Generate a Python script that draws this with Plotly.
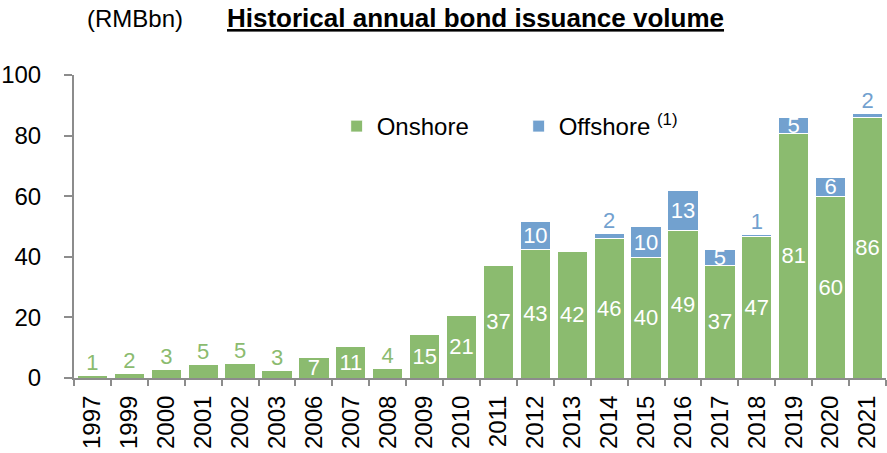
import plotly.graph_objects as go

years = ["1997", "1999", "2000", "2001", "2002", "2003", "2006", "2007", "2008", "2009",
         "2010", "2011", "2012", "2013", "2014", "2015", "2016", "2017", "2018", "2019",
         "2020", "2021"]
onshore = [0.8, 1.6, 2.7, 4.6, 4.7, 2.6, 6.8, 10.5, 3.3, 14.5,
           20.6, 37.0, 42.5, 41.9, 46.0, 39.8, 48.8, 37.0, 46.6, 80.7,
           60.0, 86.0]
offshore = [0, 0, 0, 0, 0, 0, 0, 0, 0, 0,
            0, 0, 9.3, 0, 1.7, 10.1, 13.2, 5.3, 0.9, 5.3,
            6.2, 1.2]
onshore_labels = ["1", "2", "3", "5", "5", "3", "7", "11", "4", "15",
                  "21", "37", "43", "42", "46", "40", "49", "37", "47", "81",
                  "60", "86"]
offshore_labels = ["", "", "", "", "", "", "", "", "", "",
                   "", "", "10", "", "2", "10", "13", "5", "1", "5",
                   "6", "2"]

GREEN = "#8bbb6f"
BLUE = "#72a1cf"
FONT = "Liberation Sans, Arial, sans-serif"
INSIDE_MIN = 6

on_in = [l if v >= INSIDE_MIN else "" for v, l in zip(onshore, onshore_labels)]
off_in = [l if v >= 4 else "" for v, l in zip(offshore, offshore_labels)]

fig = go.Figure()
fig.add_trace(go.Bar(
    x=years, y=onshore, name="Onshore", marker=dict(color=GREEN, line=dict(color="white", width=1)),
    text=on_in, textposition="inside", insidetextanchor="middle", textangle=0,
    textfont=dict(color="white", size=22, family=FONT), constraintext="none",
    hoverinfo="skip"))
fig.add_trace(go.Bar(
    x=years, y=offshore, name="Offshore <sup>(1)</sup>",
    marker=dict(color=BLUE, line=dict(color="white", width=1)),
    text=off_in, textposition="inside", insidetextanchor="middle", textangle=0,
    textfont=dict(color="white", size=22, family=FONT), constraintext="none",
    hoverinfo="skip"))

# outside labels for small onshore bars
ox, oy, ot = [], [], []
for x, v, l in zip(years, onshore, onshore_labels):
    if v < INSIDE_MIN:
        ox.append(x); oy.append(v); ot.append(l)
fig.add_trace(go.Scatter(x=ox, y=oy, text=ot, mode="text", textposition="top center",
                         textfont=dict(color=GREEN, size=22, family=FONT),
                         showlegend=False, hoverinfo="skip"))
# outside labels for small offshore bars
bx, by, bt = [], [], []
for x, v, o, l in zip(years, onshore, offshore, offshore_labels):
    if 0 < o < 4:
        bx.append(x); by.append(v + o); bt.append(l)
fig.add_trace(go.Scatter(x=bx, y=by, text=bt, mode="text", textposition="top center",
                         textfont=dict(color=BLUE, size=22, family=FONT),
                         showlegend=False, hoverinfo="skip"))

pw, ph = 887 - 73, 453 - 150
def px(xp):
    return (xp - 72) / pw
def py(yp):
    return (378 - yp) / ph

fig.update_layout(
    width=887, height=453, barmode="stack", bargap=0.18,
    margin=dict(l=72, r=1, t=75, b=75),
    paper_bgcolor="white", plot_bgcolor="white",
    font=dict(family=FONT, size=24, color="black"),
    showlegend=True,
    legend=dict(orientation="h", x=0.3235, y=0.83, xanchor="left", yanchor="middle",
                traceorder="normal", font=dict(size=24), entrywidth=137,
                bgcolor="rgba(0,0,0,0)"),
    annotations=[
        dict(text="(RMBbn)", x=px(83), y=py(18), xref="paper", yref="paper",
             xanchor="left", yanchor="middle", showarrow=False, font=dict(size=24)),
        dict(text="<b><u>Historical annual bond issuance volume</u></b>", x=px(223), y=py(18),
             xref="paper", yref="paper", xanchor="left", yanchor="middle", showarrow=False,
             font=dict(size=26)),
    ],
)

fig.update_yaxes(range=[0, 100], tickvals=[0, 20, 40, 60, 80, 100], showgrid=False,
                 showline=True, linecolor="#8c8c8c", linewidth=2, ticks="outside",
                 ticklen=8, tickwidth=2, tickcolor="#8c8c8c", ticklabelstandoff=18,
                 tickfont=dict(size=24), zeroline=False)
fig.update_xaxes(type="category", range=[-0.5, len(years) - 0.5], tickson="boundaries",
                 showgrid=False, showline=True,
                 linecolor="#8c8c8c", linewidth=2, ticks="outside", ticklen=6, tickwidth=2,
                 tickcolor="#8c8c8c", tickangle=-90, tickfont=dict(size=24),
                 ticklabelstandoff=6)

fig.write_html("out.html")
